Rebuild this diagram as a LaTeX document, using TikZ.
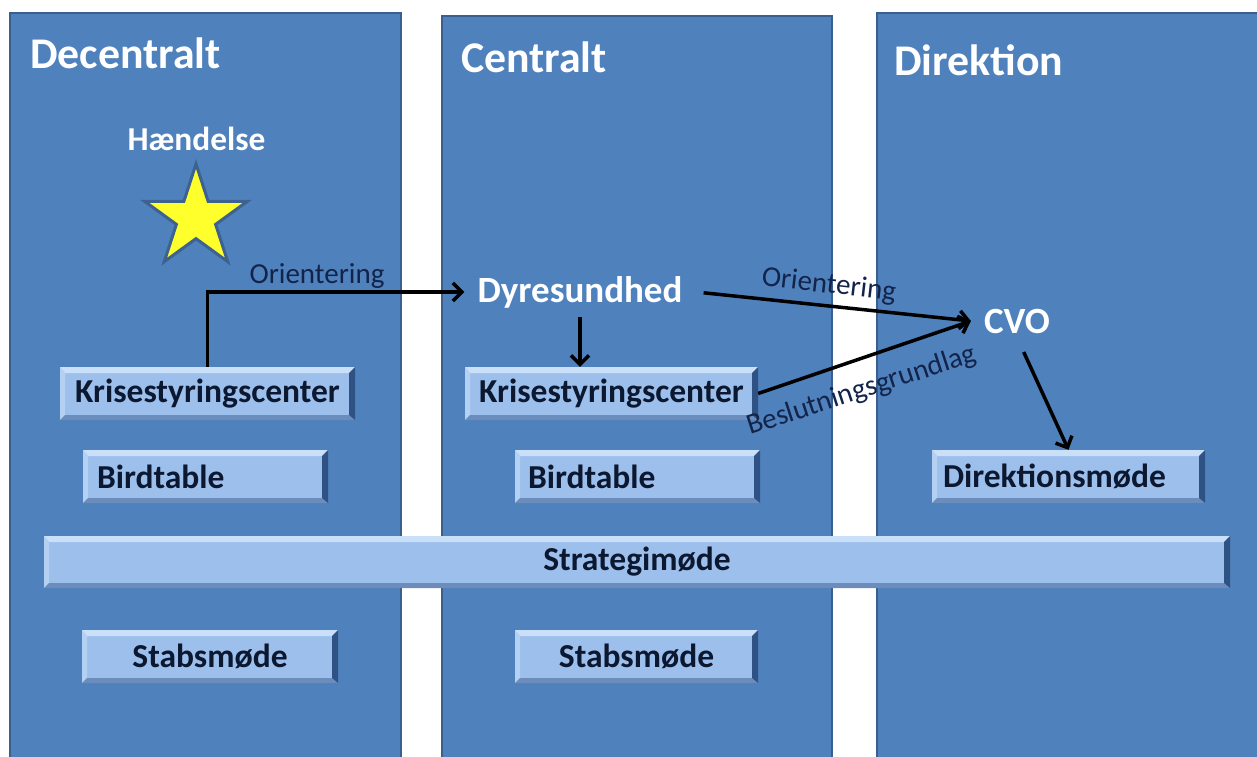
\documentclass[tikz,border=0pt]{standalone}
\usepackage{fontspec}
\setmainfont{Carlito}
\usetikzlibrary{shapes.geometric,arrows.meta}
\definecolor{panelfill}{HTML}{4F81BD}
\definecolor{paneldraw}{HTML}{3A5F8E}
\definecolor{boxfill}{HTML}{9CBFEC}
\definecolor{bevtop}{HTML}{CADFF8}
\definecolor{bevleft}{HTML}{B4D0F3}
\definecolor{bevbot}{HTML}{6C8DBC}
\definecolor{bevright}{HTML}{2F5285}
\definecolor{boxtext}{HTML}{0C1730}
\definecolor{lbltext}{HTML}{13244A}
\definecolor{staryellow}{HTML}{FFFF2B}
\definecolor{staredge}{HTML}{3D6290}
\tikzset{
  panel/.style={fill=panelfill, draw=paneldraw, line width=2pt},
  bevelbox/.style={fill=boxfill, draw=none, inner sep=0pt, minimum height=53pt,
    text=boxtext, font=\bfseries\fontsize{33.5}{36}\selectfont,
    path picture={
      \fill[bevtop] (path picture bounding box.north west) -- (path picture bounding box.north east)
        -- ([xshift=-6pt,yshift=-6pt]path picture bounding box.north east)
        -- ([xshift=5pt,yshift=-6pt]path picture bounding box.north west) -- cycle;
      \fill[bevleft] (path picture bounding box.north west) -- ([xshift=5pt,yshift=-6pt]path picture bounding box.north west)
        -- ([xshift=5pt,yshift=5pt]path picture bounding box.south west) -- (path picture bounding box.south west) -- cycle;
      \fill[bevbot] (path picture bounding box.south west) -- (path picture bounding box.south east)
        -- ([xshift=-6pt,yshift=5pt]path picture bounding box.south east)
        -- ([xshift=5pt,yshift=5pt]path picture bounding box.south west) -- cycle;
      \fill[bevright] (path picture bounding box.north east) -- (path picture bounding box.south east)
        -- ([xshift=-6pt,yshift=5pt]path picture bounding box.south east)
        -- ([xshift=-6pt,yshift=-6pt]path picture bounding box.north east) -- cycle;
    }},
  title/.style={text=white, font=\bfseries\fontsize{43.8}{48}\selectfont, inner sep=0pt, anchor=base west},
  whitelbl/.style={text=white, font=\bfseries\fontsize{37}{40}\selectfont},
  arrlbl/.style={text=lbltext, font=\fontsize{29}{32}\selectfont, inner sep=0pt, anchor=base},
  arr/.style={line width=3.5pt, -{Straight Barb[length=9pt,width=18pt]}}
}
\begin{document}
\begin{tikzpicture}[x=1pt,y=-1pt]
\useasboundingbox (0,0) rectangle (1257,756);
% panels
\draw[panel] (10,13) rectangle (401,770);
\draw[panel] (442,16) rectangle (832,770);
\draw[panel] (877,13) rectangle (1270,770);
% titles
\node[title] (tDec) at (30,68) {Decentralt};
\node[title] (tCen) at (461,72) {Centralt};
\node[title] (tDir) at (894,75) {Direktion};
% event
\node[whitelbl, font=\bfseries\fontsize{33.4}{36}\selectfont, anchor=base, inner sep=0pt] (haend) at (196.5,150) {Hændelse};
\node[star, star points=5, star point ratio=2.618, minimum size=108pt, inner sep=0pt,
      fill=staryellow, draw=staredge, line width=3pt] (star) at (196,218) {};
% text nodes
\node[whitelbl, anchor=base, inner xsep=13pt, inner ysep=9pt] (dyr) at (580,302) {Dyresundhed};
\node[whitelbl, anchor=base, inner xsep=13pt, inner ysep=4pt] (cvo) at (1017,333) {CVO};
% boxes
\node[bevelbox, minimum width=295pt] (ksL) at (207.5,393.5) {Krisestyringscenter};
\node[bevelbox, text width=217pt, inner xsep=14pt, align=left] (btL) at (205.5,476.5) {Birdtable};
\node[bevelbox, minimum width=293pt] (ksC) at (611.5,393.5) {Krisestyringscenter};
\node[bevelbox, text width=219pt, inner xsep=13pt, align=left] (btC) at (637.5,476.5) {Birdtable};
\node[bevelbox, text width=251pt, inner xsep=11pt, align=left] (dir) at (1068.5,476.5) {Direktionsmøde};
\node[bevelbox, minimum width=1186pt, minimum height=52pt] (strat) at (637,562) {Strategimøde};
\node[bevelbox, minimum width=256pt] (sbL) at (210,656.5) {Stabsmøde};
\node[bevelbox, minimum width=243pt] (sbC) at (636.5,656.5) {Stabsmøde};
% connectors
\draw[arr] (ksL.north) |- (dyr.west);
\draw[arr] (dyr.south) -- (dyr.south |- ksC.north);
\draw[arr, shorten <=8pt] (dyr.east) -- (cvo.west);
\draw[arr] (ksC.east) -- (cvo.west);
\draw[arr, shorten <=16pt] (cvo.south) -- (dir.north);
% labels
\node[arrlbl] (lOr1) at (317,283) {Orientering};
\node[arrlbl, rotate=-6.5] (lOr2) at (828,293) {Orientering};
\node[arrlbl, rotate=18] (lBes) at (864,398) {Beslutningsgrundlag};
\end{tikzpicture}
\end{document}
